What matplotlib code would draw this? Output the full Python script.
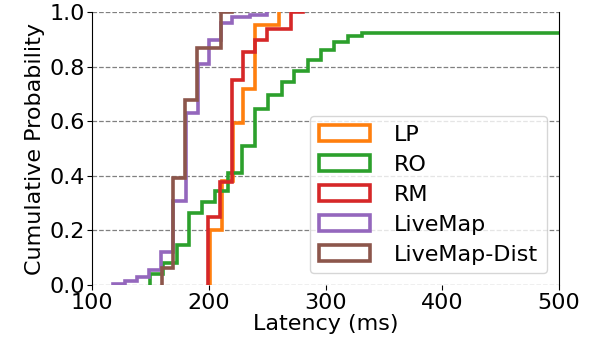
import matplotlib
matplotlib.use("Agg")
import matplotlib.pyplot as plt
from matplotlib.patches import Patch

# ---- data ----
labels = ["LP", "RO", "RM", "LiveMap", "LiveMap-Dist"]
colors = ["tab:orange", "tab:green", "tab:red", "tab:purple", "tab:brown"]

# step edges (latency, ms) and cumulative probability reached at each edge
lp_x = [201.0, 210.9, 220.6, 229.2, 239.5, 260.5]
lp_y = [0.20, 0.38, 0.595, 0.72, 0.955, 1.0]

ro_x = [149.5, 160.9, 172.3, 182.9, 193.8, 205.2, 216.6, 228.1, 239.5, 250.9,
        262.6, 273.3, 285.1, 296.0, 306.9, 319.0, 330.9]
ro_y = [0.04, 0.082, 0.147, 0.265, 0.303, 0.345, 0.41, 0.51, 0.645, 0.697,
        0.744, 0.786, 0.825, 0.861, 0.89, 0.915, 0.924]
ro_end = 520.0

rm_x = [199.4, 209.5, 220.0, 229.2, 239.5, 250.2, 270.7]
rm_y = [0.251, 0.379, 0.752, 0.856, 0.898, 0.94, 1.0]
rm_end = 280.3

lm_x = [117.7, 128.0, 138.3, 148.6, 158.9, 169.2, 180.3, 190.6, 200.0, 210.3,
        219.7, 235.0, 249.7]
lm_y = [0.005, 0.015, 0.03, 0.055, 0.12, 0.31, 0.63, 0.81, 0.90, 0.96,
        0.985, 0.99, 1.0]

lmd_x = [159.5, 169.4, 179.5, 189.5, 210.1]
lmd_y = [0.063, 0.392, 0.679, 0.869, 1.0]
lmd_end = 219.7

series = [
    (lp_x, lp_y, None),
    (ro_x, ro_y, ro_end),
    (rm_x, rm_y, rm_end),
    (lm_x, lm_y, None),
    (lmd_x, lmd_y, lmd_end),
]

FS = 16

fig = plt.figure(figsize=(5.99, 3.46), dpi=100)
ax = fig.add_axes([0.154, 0.1763, 0.779, 0.7876])

for (xs, ys, end), c in zip(series, colors):
    px = [xs[0]] + list(xs)
    py = [0.0] + list(ys)
    if end is not None:
        px.append(end)
        py.append(ys[-1])
    ax.step(px, py, where="post", color=c, lw=2.6, solid_joinstyle="miter")

ax.set_xlim(100, 500)
ax.set_ylim(0, 1.0)
ax.set_xticks([100, 200, 300, 400, 500])
ax.set_yticks([0.0, 0.2, 0.4, 0.6, 0.8, 1.0])
ax.set_yticklabels(["0.0", "0.2", "0.4", "0.6", "0.8", "1.0"])
ax.tick_params(labelsize=FS, pad=2)
ax.set_xlabel("Latency (ms)", fontsize=FS, labelpad=1)
ax.set_ylabel("Cumulative Probability", fontsize=FS, labelpad=3)
ax.yaxis.grid(True, linestyle="--", color="gray", lw=0.9)
ax.set_axisbelow(True)
ax.spines["top"].set_visible(False)
ax.spines["bottom"].set_visible(False)

handles = [Patch(facecolor="none", edgecolor=c, lw=2.6, label=l)
           for c, l in zip(colors, labels)]
ax.legend(handles=handles, loc="lower right", fontsize=FS, handlelength=2.3,
          labelspacing=0.45, borderaxespad=0.52, handletextpad=1.1)

fig.savefig("out.png", dpi=100)
